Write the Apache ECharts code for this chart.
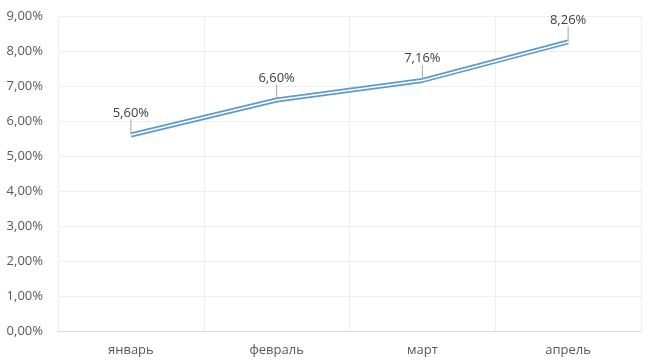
<!DOCTYPE html>
<html><head><meta charset="utf-8">
<script src="https://cdn.jsdelivr.net/npm/echarts@6/dist/echarts.min.js"></script>
<style>html,body{margin:0;padding:0;background:#fff}#c{width:653px;height:364px}</style>
</head><body><div id="c"></div>
<script>
const categories = ['январь', 'февраль', 'март', 'апрель'];
const values = [5.60, 6.60, 7.16, 8.26];
const yTicks = {min: 0, max: 9, interval: 1};

const fmt = v => v.toFixed(2).replace('.', ',') + '%';
const chart = echarts.init(document.getElementById('c'));
const font = '"Open Sans", "Noto Sans", sans-serif';
chart.setOption({
  animation: false,
  grid: {left: 58, right: 12, top: 16, bottom: 33, containLabel: false},
  xAxis: {
    type: 'category', data: categories, boundaryGap: true,
    axisLine: {lineStyle: {color: '#D9D9D9'}},
    axisTick: {show: false},
    splitLine: {show: true, lineStyle: {color: '#EEEEEE'}},
    axisLabel: {color: '#595959', fontSize: 13, fontFamily: font, margin: 13}
  },
  yAxis: {
    type: 'value', min: yTicks.min, max: yTicks.max, interval: yTicks.interval,
    axisLine: {show: false}, axisTick: {show: false},
    splitLine: {lineStyle: {color: '#EEEEEE'}},
    axisLabel: {color: '#595959', fontSize: 13, fontFamily: font, margin: 15, formatter: v => fmt(v)}
  },
  series: [
    {
      type: 'line', data: values, symbol: 'circle', symbolSize: 1,
      itemStyle: {color: 'rgba(0,0,0,0)'},
      lineStyle: {color: '#5F9BCB', width: 5}, z: 2,
      label: {show: true, position: 'top', distance: 2, color: '#404040', fontSize: 13, fontFamily: font,
        formatter: p => fmt(p.value)},
      labelLayout: {dy: -13},
      labelLine: {show: true, lineStyle: {color: '#A6A6A6', width: 1}}
    },
    {
      type: 'line', data: values, symbol: 'none', silent: true,
      lineStyle: {color: '#FFFFFF', width: 1.5}, z: 3
    }
  ]
});
</script></body></html>
